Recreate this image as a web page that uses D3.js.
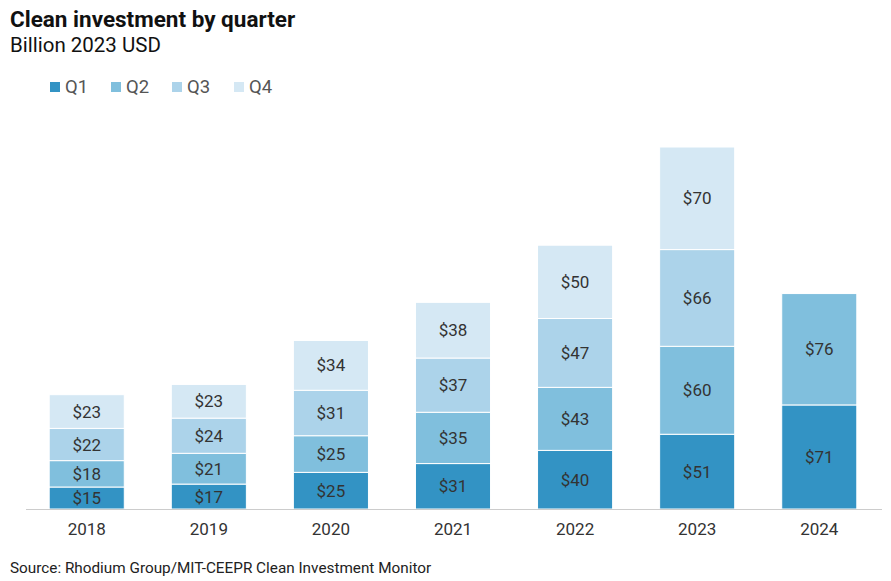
<!doctype html>
<html>
<head>
<script src="https://cdn.jsdelivr.net/npm/d3@7"></script>
<style>
  body { margin: 0; background: #fff; }
  text { font-family: Roboto, "Noto Sans", sans-serif; }
</style>
</head>
<body>
<svg id="chart" width="891" height="581"></svg>
<script>
// data
var years = ["2018", "2019", "2020", "2021", "2022", "2023", "2024"];
var quarters = ["Q1", "Q2", "Q3", "Q4"];
var q1 = [15, 17, 25, 31, 40, 51, 71];
var q2 = [18, 21, 25, 35, 43, 60, 76];
var q3 = [22, 24, 31, 37, 47, 66, null];
var q4 = [23, 23, 34, 38, 50, 70, null];
var colors = ["#3393c4", "#80bfdd", "#acd3ea", "#d5e8f4"];

var svg = d3.select("#chart");

var rows = years.map(function(y, i) {
  return { year: y, Q1: q1[i], Q2: q2[i], Q3: q3[i] || 0, Q4: q4[i] || 0 };
});
var stack = d3.stack().keys(quarters)(rows);

var x = d3.scaleBand().domain(years).range([26, 880]).paddingInner(0.385).paddingOuter(0.19);
var y = d3.scaleLinear().domain([0, 247]).range([509, 147]);

// title
svg.append("text").attr("x", 10).attr("y", 27)
  .style("font-size", "22.5px").style("font-weight", "bold").attr("fill", "#111")
  .text("Clean investment by quarter");
svg.append("text").attr("x", 10).attr("y", 52)
  .style("font-size", "20.5px").attr("fill", "#111")
  .text("Billion 2023 USD");

// legend
var legendX = [50, 111, 172, 234];
quarters.forEach(function(q, i) {
  var g = svg.append("g").attr("transform", "translate(" + legendX[i] + ",82)");
  g.append("rect").attr("width", 10).attr("height", 10).attr("fill", colors[i]);
  g.append("text").attr("x", 15).attr("y", 11).style("font-size", "18.5px").attr("fill", "#555").text(q);
});

// bars
var layers = svg.append("g").selectAll("g")
  .data(stack).enter().append("g")
  .attr("fill", function(d, i) { return colors[i]; });

layers.selectAll("rect")
  .data(function(d) { return d.filter(function(s) { return s[1] - s[0] > 0; }); })
  .enter().append("rect")
  .attr("x", function(d) { return x(d.data.year); })
  .attr("width", x.bandwidth())
  .attr("y", function(d) { return y(d[1]); })
  .attr("height", function(d) { return y(d[0]) - y(d[1]); })
  .attr("stroke", "#fff").attr("stroke-width", 1);

layers.selectAll("text")
  .data(function(d) { return d.filter(function(s) { return s[1] - s[0] > 0; }); })
  .enter().append("text")
  .attr("x", function(d) { return x(d.data.year) + x.bandwidth() / 2; })
  .attr("y", function(d) { return (y(d[0]) + y(d[1])) / 2 + 6; })
  .attr("text-anchor", "middle")
  .style("font-size", "17px").attr("fill", "#333")
  .text(function(d) { return "$" + (d[1] - d[0]); });

// axis
var axis = svg.append("g").attr("transform", "translate(0,509)")
  .call(d3.axisBottom(x).tickSize(0).tickPadding(14));
axis.select(".domain").attr("stroke", "#ccc").attr("d", "M26,0.5H882");
axis.selectAll("text").style("font-size", "17px").attr("fill", "#333")
  .style("font-family", "Roboto, sans-serif");

// source
svg.append("text").attr("x", 10).attr("y", 573)
  .style("font-size", "15.3px").attr("fill", "#222")
  .text("Source: Rhodium Group/MIT-CEEPR Clean Investment Monitor");
</script>
</body>
</html>
